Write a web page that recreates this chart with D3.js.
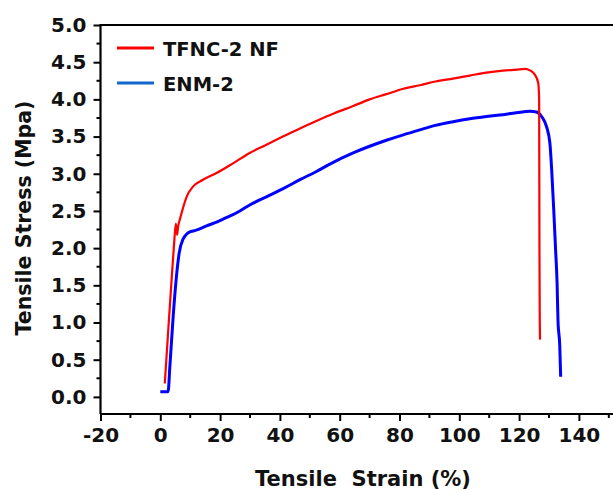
<!DOCTYPE html>
<html>
<head>
<meta charset="utf-8">
<script src="https://cdn.jsdelivr.net/npm/d3@7"></script>
<style>
  html, body { margin: 0; padding: 0; background: #fff; }
  svg { display: block; }
</style>
</head>
<body>
<div id="chart"></div>
<script>
// ---- Data ----
const seriesNames = ["TFNC-2 NF", "ENM-2"];
const redStrain = [1.5, 2.6, 3.7, 4.6, 5.2, 5.6, 6.0, 6.5, 7.1, 8.2, 8.8, 11, 14.3, 18.8, 24.3, 29.9, 35.5, 41, 46.7, 52.2, 58, 64.5, 70, 75.6, 81, 86.8, 92, 97.9, 103.5, 109.1, 114.6, 119.1, 122, 123.6, 125.3, 126.4, 126.7, 126.8, 126.9, 127.0];
const redStress = [0.18, 0.86, 1.53, 2.05, 2.33, 2.18, 2.30, 2.38, 2.47, 2.62, 2.69, 2.83, 2.92, 3.01, 3.14, 3.28, 3.39, 3.50, 3.61, 3.71, 3.81, 3.91, 4.00, 4.07, 4.14, 4.19, 4.24, 4.28, 4.32, 4.36, 4.386, 4.40, 4.41, 4.39, 4.33, 4.22, 3.99, 2.0, 1.1, 0.77];
const blueStrain = [0.0, 2.6, 3.2, 4.3, 5.4, 6.3, 7.6, 9.9, 11, 15.5, 18.8, 21, 24.3, 26.6, 29.9, 35.5, 41.1, 46.7, 52.2, 56.7, 64.5, 70, 75.6, 81, 86.8, 92, 97.9, 103.5, 109.1, 113.5, 119.1, 123.6, 125.8, 127.5, 129.2, 130.3, 130.9, 131.6, 132.2, 132.7, 133.0, 133.6, 133.9];
const blueStress = [0.07, 0.07, 0.41, 1.08, 1.62, 1.93, 2.12, 2.22, 2.23, 2.30, 2.35, 2.39, 2.45, 2.50, 2.58, 2.69, 2.80, 2.92, 3.03, 3.13, 3.28, 3.37, 3.45, 3.52, 3.59, 3.65, 3.70, 3.74, 3.77, 3.79, 3.82, 3.84, 3.83, 3.77, 3.63, 3.41, 3.05, 2.5, 1.98, 1.53, 1.03, 0.68, 0.27];
const xTicks = [-20, 0, 20, 40, 60, 80, 100, 120, 140];
const yTicks = [0.0, 0.5, 1.0, 1.5, 2.0, 2.5, 3.0, 3.5, 4.0, 4.5, 5.0];
const xTitle = "Tensile  Strain (%)";
const yTitle = "Tensile Stress (Mpa)";

// ---- Layout ----
const W = 613, H = 490;
const mLeft = 100.5, mRight = 613, mTop = 25, mBottom = 414;

const svg = d3.select("#chart").append("svg")
  .attr("width", W).attr("height", H);

const x = d3.scaleLinear().domain([-20, 151.4]).range([mLeft, mRight]);
const y = d3.scaleLinear().domain([-0.23, 5.0]).range([mBottom, mTop]);

const tickFont = "'DejaVu Sans', sans-serif";

// minor ticks
const xMinor = d3.range(-20, 151, 10).filter(v => !xTicks.includes(v));
const yMinor = d3.range(0, 5.01, 0.25).map(v => +v.toFixed(2)).filter(v => !yTicks.some(t => Math.abs(t - v) < 1e-6));

// X axis
const xAxis = svg.append("g").attr("transform", `translate(0,${mBottom})`)
  .call(d3.axisBottom(x).tickValues(xTicks).tickSize(7).tickPadding(7).tickFormat(d => String(d)));
xAxis.select(".domain").attr("stroke-width", 2.2).attr("d", `M${mLeft},0H${mRight}`);
xAxis.selectAll(".tick line").attr("stroke-width", 2);
xAxis.selectAll(".tick text")
  .attr("font-family", tickFont).attr("font-weight", "bold").attr("font-size", 20).attr("fill", "#111");
svg.append("g").attr("transform", `translate(0,${mBottom})`)
  .selectAll("line").data(xMinor).join("line")
  .attr("x1", d => x(d)).attr("x2", d => x(d)).attr("y1", 0).attr("y2", 4)
  .attr("stroke", "#000").attr("stroke-width", 2);

// Y axis
const yAxis = svg.append("g").attr("transform", `translate(${mLeft},0)`)
  .call(d3.axisLeft(y).tickValues(yTicks).tickSize(7).tickPadding(7).tickFormat(d => d.toFixed(1)));
yAxis.select(".domain").attr("stroke-width", 2.2).attr("d", `M0,${mBottom}V${mTop}`);
yAxis.selectAll(".tick line").attr("stroke-width", 2);
yAxis.selectAll(".tick text")
  .attr("font-family", tickFont).attr("font-weight", "bold").attr("font-size", 20).attr("fill", "#111");
svg.append("g").attr("transform", `translate(${mLeft},0)`)
  .selectAll("line").data(yMinor).join("line")
  .attr("y1", d => y(d)).attr("y2", d => y(d)).attr("x1", 0).attr("x2", -4)
  .attr("stroke", "#000").attr("stroke-width", 2);

// top border
svg.append("line").attr("x1", mLeft - 1).attr("x2", mRight).attr("y1", mTop).attr("y2", mTop)
  .attr("stroke", "#000").attr("stroke-width", 2.2);

// Lines
const line = d3.line().x(d => x(d[0])).y(d => y(d[1])).curve(d3.curveMonotoneX);
const redData = redStrain.map((v, i) => [v, redStress[i]]);
const blueData = blueStrain.map((v, i) => [v, blueStress[i]]);

svg.append("path").datum(blueData).attr("d", line)
  .attr("fill", "none").attr("stroke", "#0000ff").attr("stroke-width", 3).attr("stroke-linejoin", "round");
svg.append("path").datum(redData).attr("d", line)
  .attr("fill", "none").attr("stroke", "#ff0000").attr("stroke-width", 2.2).attr("stroke-linejoin", "round");

// Legend
const legend = [
  { name: seriesNames[0], color: "#ff0000", ly: 48, ty: 56 },
  { name: seriesNames[1], color: "#1266cc", ly: 83, ty: 91 }
];
const lg = svg.append("g");
legend.forEach(d => {
  lg.append("line").attr("x1", 117).attr("x2", 154).attr("y1", d.ly).attr("y2", d.ly)
    .attr("stroke", d.color).attr("stroke-width", 3);
  lg.append("text").attr("x", 163).attr("y", d.ty).text(d.name)
    .attr("font-family", tickFont).attr("font-weight", "bold").attr("font-size", 19.5).attr("fill", "#111");
});

// Axis titles
svg.append("text").attr("x", 363).attr("y", 486).attr("text-anchor", "middle")
  .attr("font-family", tickFont).attr("font-weight", "bold").attr("font-size", 21).attr("fill", "#111")
  .style("white-space", "pre")
  .text(xTitle);
svg.append("text").attr("transform", "translate(31,218) rotate(-90)").attr("text-anchor", "middle")
  .attr("font-family", tickFont).attr("font-weight", "bold").attr("font-size", 20.5).attr("fill", "#111")
  .text(yTitle);
</script>
</body>
</html>
